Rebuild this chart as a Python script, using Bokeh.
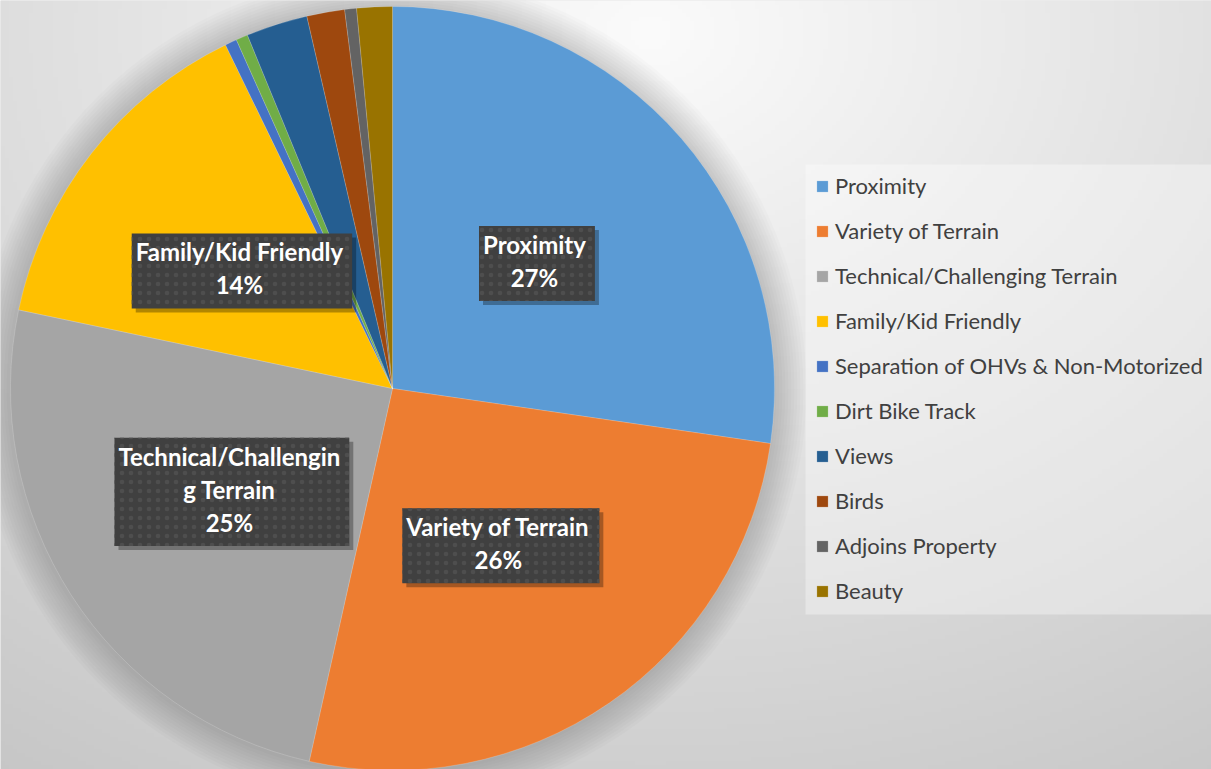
import numpy as np
from bokeh.plotting import figure
from bokeh.models import ColumnDataSource, Range1d
from bokeh.embed import file_html
from bokeh.resources import INLINE
from bokeh.core.properties import value

# ---- data ----
names = ["Proximity", "Variety of Terrain", "Technical/Challenging Terrain",
         "Family/Kid Friendly", "Separation of OHVs & Non-Motorized",
         "Dirt Bike Track", "Views", "Birds", "Adjoins Property", "Beauty"]
shares = [27.3, 26.2, 24.8, 14.5, 0.5, 0.5, 2.6, 1.6, 0.5, 1.5]
colors = ["#5B9BD5", "#ED7D31", "#A5A5A5", "#FFC000", "#4472C4",
          "#70AD47", "#255E91", "#9E480E", "#636363", "#997300"]
label_text = {"Technical/Challenging Terrain": "Technical/Challengin\ng Terrain"}

# ---- geometry ----
W, H = 1211, 769
cx, cy, R = 392, 381, 382

vals = np.array(shares, dtype=float)
frac = vals / vals.sum()
cum_end = np.cumsum(frac) * 2 * np.pi
cum_start = cum_end - frac * 2 * np.pi
start = np.pi / 2 - cum_end
end = np.pi / 2 - cum_start
mid = (start + end) / 2

src = ColumnDataSource(dict(name=names, color=colors, start=start, end=end))

p = figure(width=W, height=H, output_backend="svg", toolbar_location=None,
           x_range=Range1d(0, W), y_range=Range1d(0, H),
           min_border=0, tools="")
p.axis.visible = False
p.grid.visible = False
p.outline_line_color = None
p.background_fill_color = "#dcdcdc"
p.border_fill_color = "#dcdcdc"

# background radial gradient
gw, gh = 300, 190
gx = np.linspace(0, W, gw)
gy = np.linspace(0, H, gh)
GX, GY = np.meshgrid(gx, gy)
ref_y = H - GY
d = np.sqrt((GX - 650) ** 2 + (1.3 * (ref_y - 30)) ** 2)
v = np.clip(251 - 0.045 * d, 198, 250).astype(np.uint8)
img = np.empty((gh, gw), dtype=np.uint32)
view = img.view(dtype=np.uint8).reshape((gh, gw, 4))
view[:, :, 0] = v
view[:, :, 1] = v
view[:, :, 2] = v
view[:, :, 3] = 255
p.image_rgba(image=[img], x=0, y=0, dw=W, dh=H)

# pie shadow
for i in range(1, 12):
    p.circle(x=[cx - 1], y=[cy - 1], radius=R + 3 * i, fill_color="black",
             fill_alpha=0.014, line_color=None)

p.wedge(x=cx, y=cy, radius=R, start_angle="start", end_angle="end",
        fill_color="color", line_color="white", line_width=0.5, line_alpha=0.35,
        legend_field="name", source=src)

# data labels
lx, ly, lt = [], [], []
for n, f, m in zip(names, frac, mid):
    if f >= 0.1:
        lx.append(cx + 0.5 * R * np.cos(m))
        ly.append(cy + 0.5 * R * np.sin(m))
        lt.append(label_text.get(n, n) + "\n" + f"{round(f * 100)}%")
lsrc = ColumnDataSource(dict(x=lx, y=ly, t=lt))

common = dict(x="x", y="y", text="t", text_font=value("Lato"),
              text_font_style="bold", text_font_size="24px",
              text_align="center", text_baseline="middle",
              text_line_height=1.14, padding=[4, 9, 4, 9], source=lsrc)
p.text(text_color="white", text_alpha=0, background_fill_color="black",
       background_fill_alpha=0.3, x_offset=4, y_offset=4, **common)
p.text(text_color="white", background_fill_color="#404040",
       background_hatch_pattern="dot", background_hatch_color="#4e4e4e",
       background_hatch_scale=9, **common)

# legend panel
p.quad(left=[805], right=[W], bottom=[H - 614], top=[H - 164],
       fill_color="white", fill_alpha=0.35, line_color=None)

lg = p.legend[0]
lg.location = (815, 165)
lg.label_text_font = "Lato"
lg.label_text_font_size = "22px"
lg.label_text_color = "#404040"
lg.glyph_width = 14
lg.glyph_height = 14
lg.label_standoff = 6
lg.spacing = 18
lg.padding = 11
lg.margin = 0
lg.background_fill_alpha = 0
lg.border_line_color = None

open("out.html", "w").write(file_html(p, INLINE))
